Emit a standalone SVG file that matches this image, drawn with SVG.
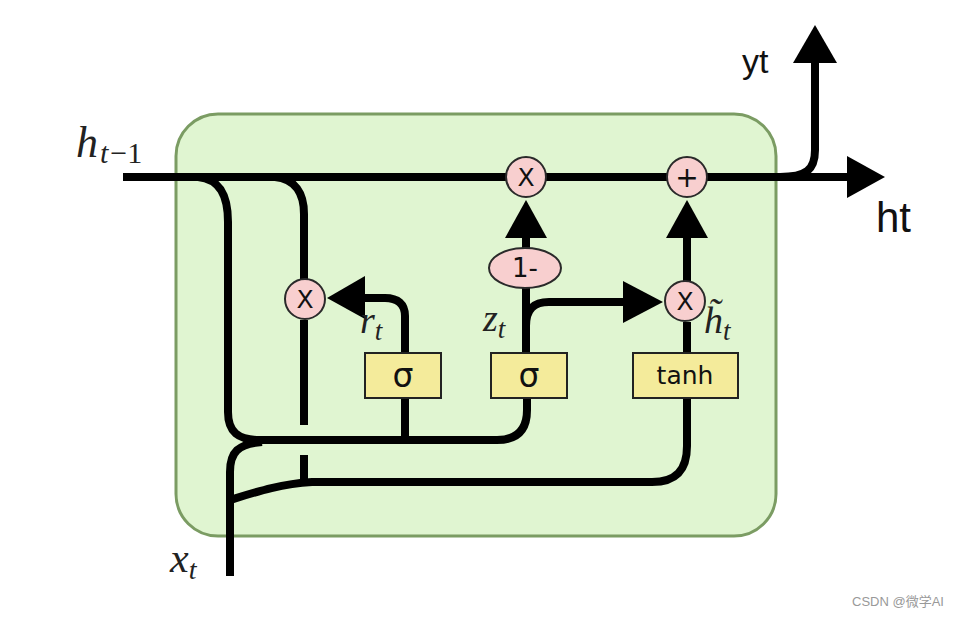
<svg xmlns="http://www.w3.org/2000/svg" width="956" height="618" viewBox="0 0 956 618">
<style>
.w{fill:none;stroke:#000;stroke-width:8;stroke-linecap:butt;stroke-linejoin:round}
.hd{fill:#000}
.op{fill:#f8cfcf;stroke:#2a2a2a;stroke-width:2}
.bx{fill:#f4eb9b;stroke:#222;stroke-width:2}
.sy{font-family:"DejaVu Sans","Liberation Sans",sans-serif;fill:#111;text-anchor:middle}
.m{font-family:"Liberation Serif","DejaVu Serif",serif;font-style:italic;fill:#222}
.lb{font-family:"Liberation Sans","DejaVu Sans",sans-serif;fill:#111}
</style>
<rect width="956" height="618" fill="#fff"/>
<g id="cell">
<rect x="176" y="114" width="600" height="422" rx="42" ry="42" fill="#e0f5d1" stroke="#7b9c63" stroke-width="3"/>
</g>
<g id="connectors">
<path class="w" d="M123,177 H847"/>
<polygon class="hd" points="847,156 885,177 847,198"/>
<path class="w" d="M780,177 C806,177 815,170 815,150 V62"/>
<polygon class="hd" points="793,63 837,63 815,25"/>
<path class="w" d="M198,177 C220,179 228,196 228,222 V412 C228,432 238,440 260,440 H497 C517,440 527,430 527,410 V398"/>
<path class="w" d="M405,398 V440"/>
<path class="w" d="M230,576 V472 C230,452 238,444 262,442"/>
<path class="w" d="M230,500 C256,492 280,484 312,482 H652 C676,482 687,470 687,446 V398"/>
<path class="w" d="M275,177 C295,179 304,193 304,214 V280"/>
<path class="w" d="M304,320 V425"/>
<path class="w" d="M304,455 V484"/>
<path class="w" d="M405,352 V316 C405,304 398,298 385,298 H362"/>
<polygon class="hd" points="365,276 365,319 327,298"/>
<path class="w" d="M526,249 V234"/>
<polygon class="hd" points="505,238 547,238 526,200"/>
<path class="w" d="M526,352 V287"/>
<path class="w" d="M526,326 C526,309 534,302 549,302 H625"/>
<polygon class="hd" points="623,281 623,323 663,302"/>
<path class="w" d="M687,352 V322"/>
<path class="w" d="M687,282 V234"/>
<polygon class="hd" points="666,238 708,238 687,200"/>
</g>
<g id="mul_reset">
<circle class="op" cx="305" cy="299" r="20"/>
<text class="sy" x="305" y="308" font-size="25">X</text>
</g>
<g id="mul_update">
<circle class="op" cx="526" cy="177" r="20"/>
<text class="sy" x="526" y="186" font-size="25">X</text>
</g>
<g id="add">
<circle class="op" cx="687" cy="177" r="20"/>
<text class="sy" x="687" y="187" font-size="28">+</text>
</g>
<g id="mul_cand">
<circle class="op" cx="685" cy="301" r="20"/>
<text class="sy" x="685" y="310" font-size="25">X</text>
</g>
<g id="one_minus">
<ellipse class="op" cx="525" cy="268" rx="36" ry="20"/>
<text class="sy" x="525" y="277" font-size="26">1-</text>
</g>
<g id="sigma_r">
<rect class="bx" x="365" y="353" width="76" height="45"/>
<text class="sy" x="403" y="387" font-size="33">σ</text>
</g>
<g id="sigma_z">
<rect class="bx" x="491" y="353" width="76" height="45"/>
<text class="sy" x="529" y="387" font-size="33">σ</text>
</g>
<g id="tanh">
<rect class="bx" x="633" y="353" width="105" height="45"/>
<text class="sy" x="685" y="384" font-size="25">tanh</text>
</g>
<g id="labels">
<text class="m" x="76" y="157" font-size="44">h<tspan font-size="30" dy="6" dx="2">t</tspan><tspan font-size="30" font-style="normal" dx="2">−1</tspan></text>
<text class="m" x="360" y="333" font-size="38">r<tspan font-size="27" dy="7">t</tspan></text>
<text class="m" x="483" y="331" font-size="38">z<tspan font-size="27" dy="7">t</tspan></text>
<text class="m" x="704" y="333" font-size="38">h̃<tspan font-size="27" dy="7">t</tspan></text>
<text class="m" x="170" y="572" font-size="42">x<tspan font-size="28" dy="7">t</tspan></text>
<text class="lb" x="742" y="73" font-size="34">yt</text>
<text class="lb" x="876" y="232" font-size="42">ht</text>
<text x="852" y="606" font-size="13" fill="#999" font-family="Liberation Sans,Noto Sans CJK SC,sans-serif">CSDN @微学AI</text>
</g>
</svg>
